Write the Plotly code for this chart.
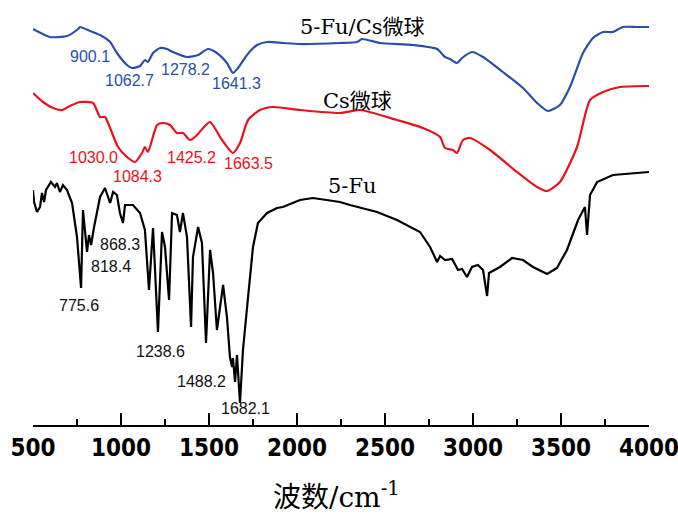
import plotly.graph_objects as go

# ---- data (wavenumber cm^-1, transmittance a.u.) ----
blue_wn = [500, 597, 693, 756, 767, 824, 881, 938, 977, 1034,
           1063, 1108, 1136, 1153, 1182, 1222, 1261, 1295, 1375, 1438,
           1494, 1545, 1602, 1636, 1665, 1716, 1773, 1830, 1920, 2017,
           2244, 2341, 2369, 2472, 2659, 2796, 2841, 2869, 2909, 2938,
           2994, 3057, 3170, 3284, 3364, 3426, 3494, 3551, 3625, 3682,
           3739, 3795, 3852, 3932, 3989, 4000]
blue_py = [29, 37, 36, 29, 27, 31, 35, 42, 53, 65,
           68, 66, 60, 62, 53, 48, 49, 52, 57, 55,
           49, 53, 63, 73, 68, 55, 45, 42, 43, 44,
           43, 42, 39, 43, 45, 49, 57, 59, 63, 58,
           52, 57, 72, 88, 103, 111, 105, 87, 53, 38,
           32, 32, 27, 27, 27, 27]

red_wn = [500, 557, 614, 665, 710, 767, 841, 881, 909, 938,
          983, 1034, 1080, 1119, 1136, 1153, 1205, 1239, 1278, 1318,
          1352, 1392, 1432, 1466, 1506, 1574, 1636, 1676, 1722, 1790,
          1864, 2017, 2244, 2358, 2568, 2716, 2813, 2841, 2886, 2909,
          2943, 2983, 3097, 3250, 3364, 3421, 3494, 3591, 3665, 3739,
          3835, 3989, 4000]
red_py = [93, 102, 108, 110, 106, 102, 103, 117, 117, 128,
          147, 157, 162, 153, 147, 152, 125, 123, 125, 133,
          133, 140, 135, 128, 122, 140, 153, 143, 120, 110,
          107, 110, 113, 110, 120, 128, 137, 148, 150, 153,
          140, 138, 150, 172, 187, 191, 182, 147, 100, 92,
          87, 86, 86]

black_wn = [500, 506, 523, 540, 551, 563, 574, 602, 625, 636,
            653, 670, 693, 722, 750, 773, 784, 807, 818, 830,
            847, 881, 909, 938, 955, 977, 994, 1011, 1023, 1068,
            1108, 1136, 1159, 1182, 1210, 1233, 1250, 1273, 1290, 1318,
            1335, 1352, 1375, 1398, 1409, 1438, 1460, 1483, 1506, 1523,
            1545, 1580, 1602, 1619, 1631, 1636, 1648, 1659, 1676, 1693,
            1722, 1750, 1778, 1830, 1886, 1920, 2017, 2091, 2244, 2301,
            2455, 2568, 2699, 2756, 2796, 2813, 2841, 2881, 2915, 2938,
            2966, 2994, 3028, 3057, 3080, 3091, 3153, 3222, 3284, 3341,
            3421, 3477, 3534, 3597, 3636, 3648, 3665, 3705, 3795, 3989,
            4000]
black_py = [190, 202, 212, 207, 193, 202, 190, 182, 187, 183,
            192, 185, 190, 203, 237, 288, 210, 252, 235, 245,
            227, 197, 188, 203, 192, 195, 213, 223, 205, 205,
            213, 230, 290, 228, 332, 232, 247, 300, 213, 215,
            232, 213, 237, 327, 257, 227, 243, 343, 250, 273,
            330, 285, 317, 357, 367, 358, 382, 355, 403, 350,
            297, 247, 223, 213, 208, 207, 200, 198, 202, 205,
            212, 220, 232, 247, 262, 256, 260, 259, 270, 269,
            277, 267, 265, 270, 296, 273, 267, 258, 260, 267,
            274, 268, 250, 220, 207, 235, 195, 182, 175, 172,
            172]

blue_T = [425 - v for v in blue_py]
red_T = [425 - v for v in red_py]
black_T = [425 - v for v in black_py]

BLUE = "#2B4FA6"
RED = "#E8121E"
BLACK = "#000000"

series_labels = [("5-Fu/Cs微球", 2369, 398), ("Cs微球", 2341, 324), ("5-Fu", 2313, 239)]
blue_peaks = [("900.1", 824, 369), ("1062.7", 1051, 345), ("1278.2", 1364, 356), ("1641.3", 1659, 342)]
red_peaks = [("1030.0", 841, 268), ("1084.3", 1091, 249), ("1425.2", 1398, 268), ("1663.5", 1722, 262)]
black_peaks = [("868.3", 994, 181), ("818.4", 943, 159), ("775.6", 761, 120),
               ("1238.6", 1227, 74), ("1488.2", 1455, 44), ("1682.1", 1705, 17)]

tick_vals = [500, 1000, 1500, 2000, 2500, 3000, 3500, 4000]
tick_text = [str(v) for v in tick_vals]

fig = go.Figure()
for wn, T, c, shape in [(blue_wn, blue_T, BLUE, "spline"), (red_wn, red_T, RED, "spline"),
                        (black_wn, black_T, BLACK, "linear")]:
    line = dict(color=c, width=2.2, shape=shape)
    if shape == "spline":
        line["smoothing"] = 0.6
    fig.add_trace(go.Scatter(x=wn, y=T, mode="lines", line=line, showlegend=False))

SERIF = "DejaVu Serif, Noto Sans CJK SC"
SANS = "Liberation Sans, Arial"
ann = []
for t, x, y in series_labels:
    ann.append(dict(text=t, x=x, y=y, xref="x", yref="y", showarrow=False,
                    font=dict(family=SERIF, size=21, color="black")))
for lst, col in [(blue_peaks, BLUE), (red_peaks, RED), (black_peaks, "#111111")]:
    for t, x, y in lst:
        ann.append(dict(text=t, x=x, y=y, xref="x", yref="y", showarrow=False,
                        font=dict(family=SANS, size=16, color=col)))
ann.append(dict(text="波数/cm<sup>-1</sup>", x=0.4935, y=-0.167, xref="paper", yref="paper",
                showarrow=False, xanchor="center", yanchor="middle",
                font=dict(family=SERIF, size=28, color="black")))

fig.update_layout(
    width=678, height=519,
    margin=dict(l=33, r=29, t=0, b=94, autoexpand=False),
    paper_bgcolor="white", plot_bgcolor="white",
    annotations=ann,
    xaxis=dict(range=[500, 4000], showgrid=False, zeroline=False, automargin=False,
               showline=True, linecolor="black", linewidth=2,
               ticks="inside", ticklen=12, tickwidth=1.5, tickcolor="black",
               tickvals=tick_vals, ticktext=tick_text, ticklabeloverflow="allow",
               tickfont=dict(family="DejaVu Sans Condensed, Liberation Sans", size=24,
                             color="black", weight="bold"),
               minor=dict(ticks="inside", ticklen=6, tickwidth=1.5, tickcolor="black", dtick=250)),
    yaxis=dict(range=[0, 425], visible=False, showgrid=False, zeroline=False, automargin=False),
)

fig.write_html("out.html", config={"displayModeBar": False},
               post_script="document.body.style.margin='0px';document.body.style.padding='0px';")
